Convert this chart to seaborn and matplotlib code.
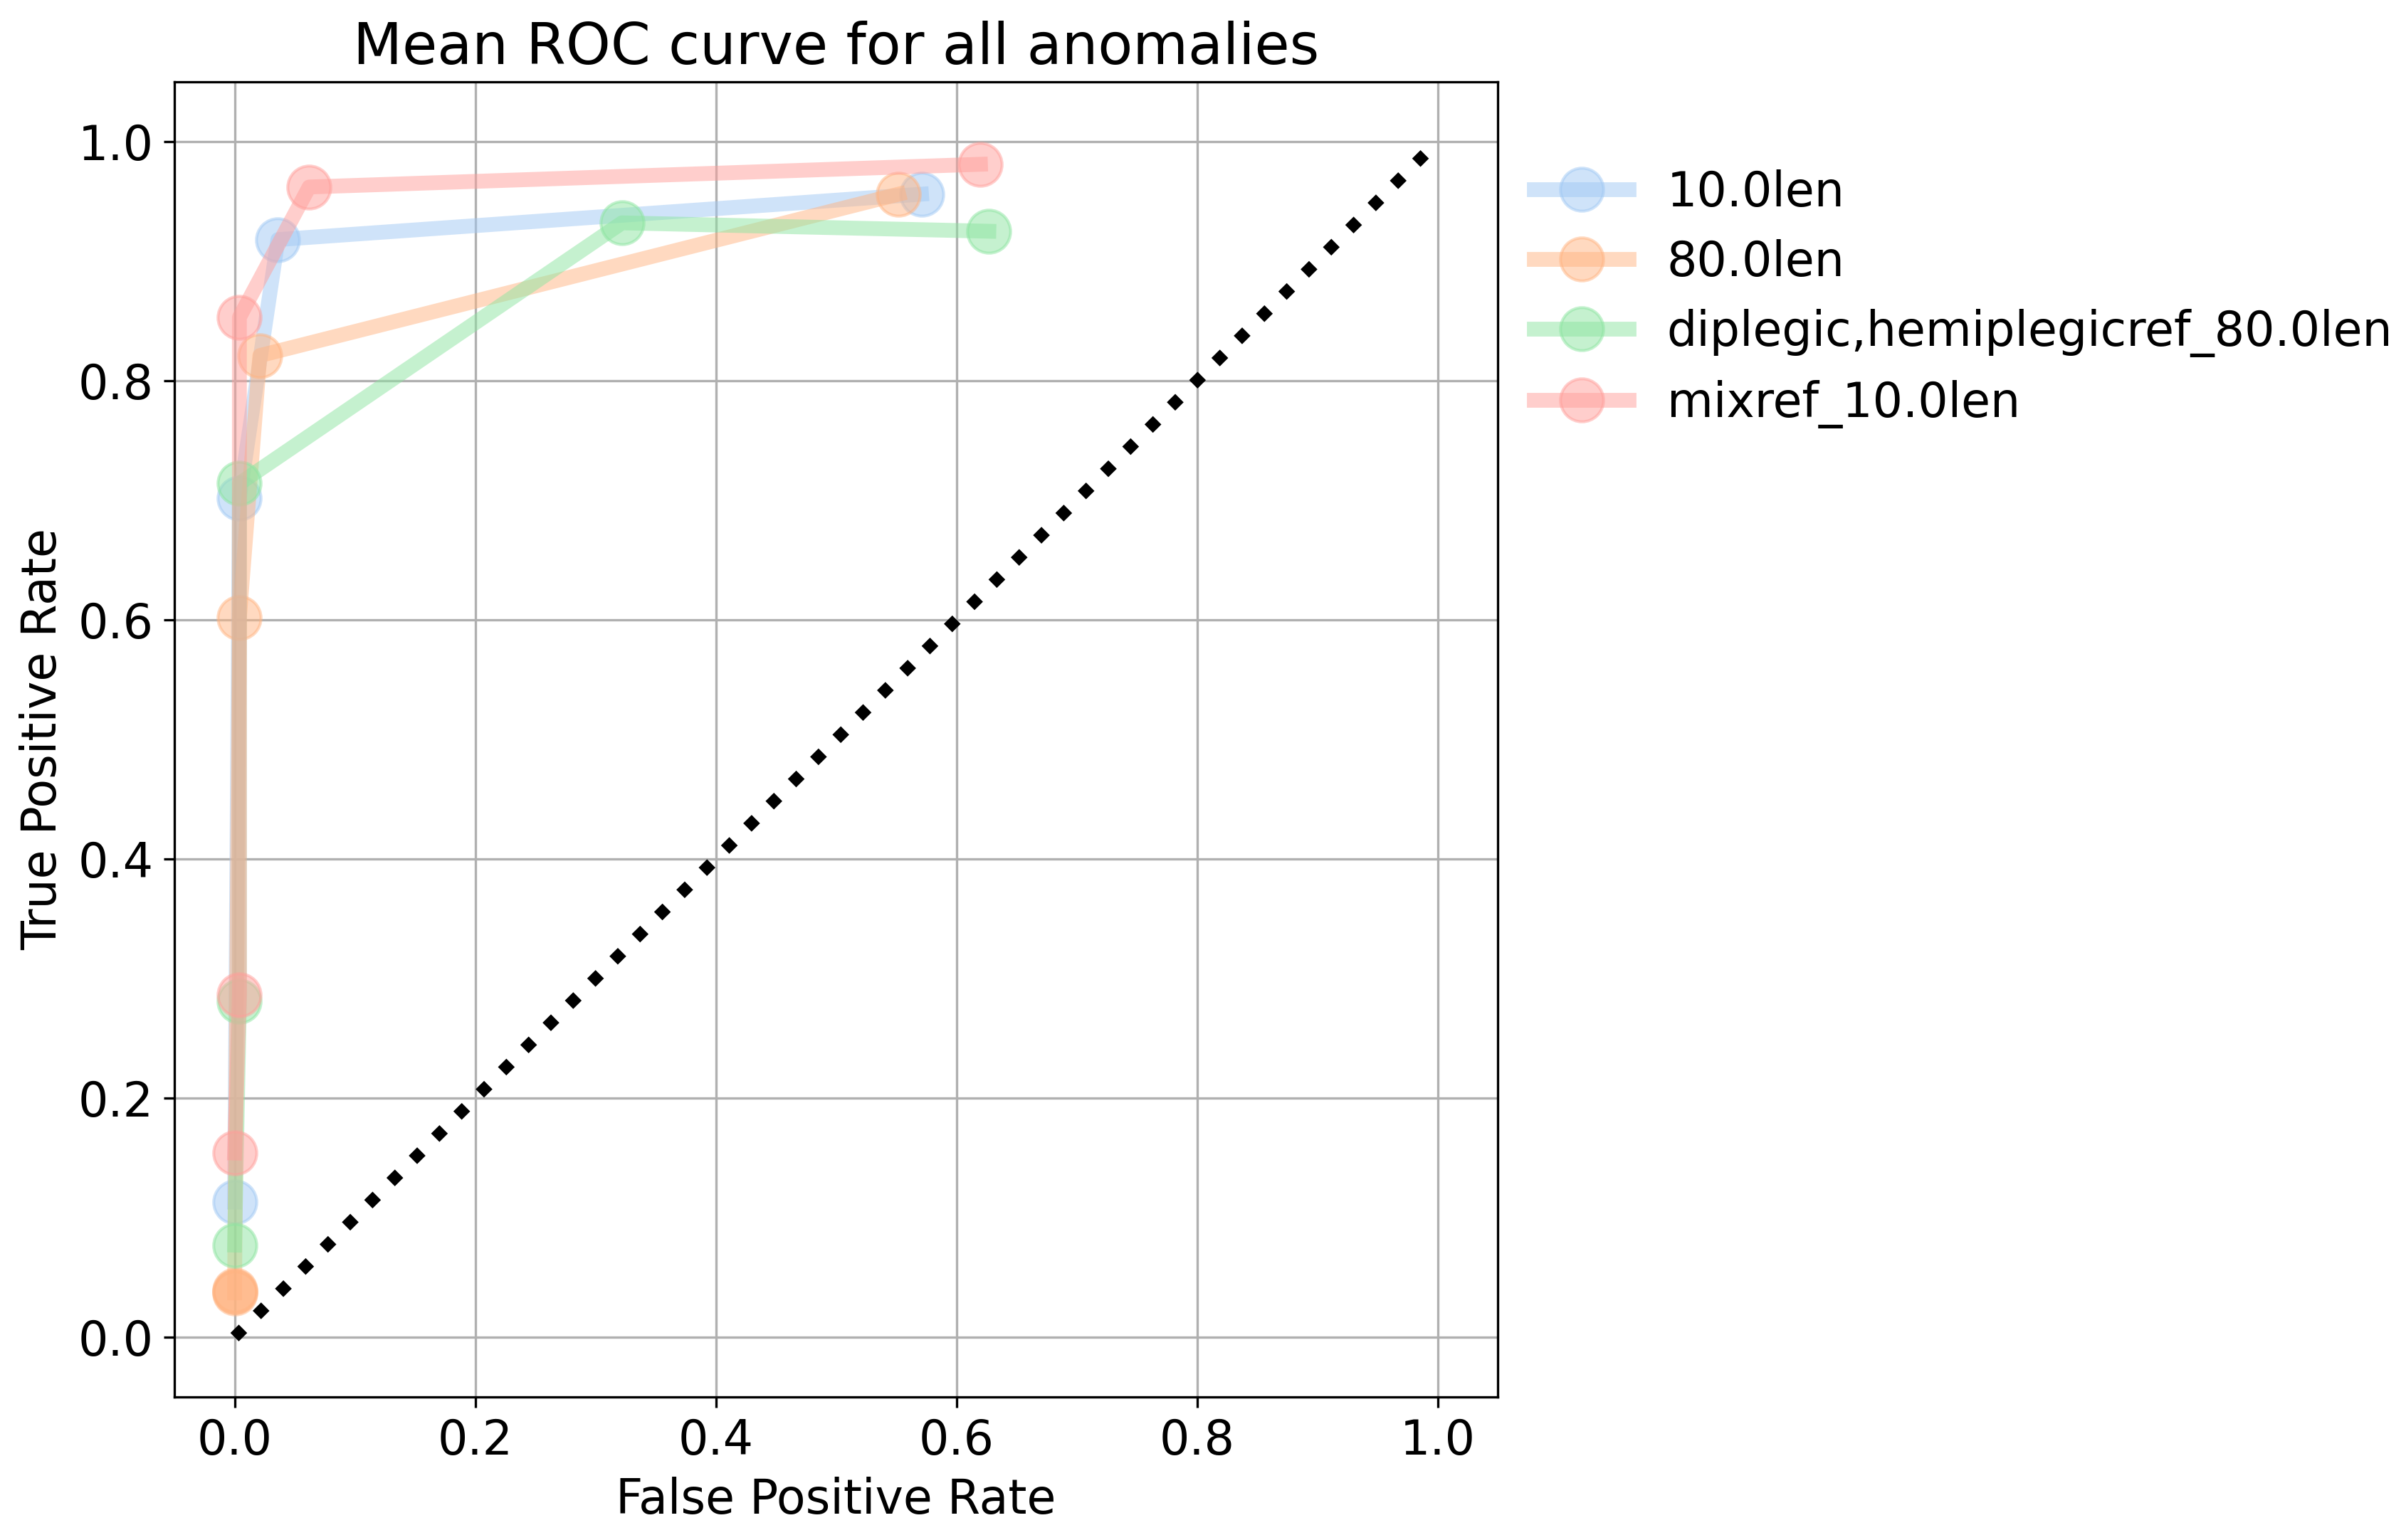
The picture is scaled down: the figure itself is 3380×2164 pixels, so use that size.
import pandas as pd
import numpy as np
import matplotlib
matplotlib.use("Agg")
import matplotlib.pyplot as plt
import seaborn as sns

# ROC points (fpr, tpr) per run
names = ["10.0len", "80.0len", "diplegic,hemiplegicref_80.0len", "mixref_10.0len"]

fpr_10 = [0.0, 0.004, 0.036, 0.571]
tpr_10 = [0.113, 0.702, 0.918, 0.956]

fpr_80 = [0.0, 0.0, 0.0, 0.004, 0.021, 0.552]
tpr_80 = [0.037, 0.038, 0.039, 0.602, 0.821, 0.956]

fpr_dh = [0.0, 0.004, 0.004, 0.322, 0.627]
tpr_dh = [0.077, 0.281, 0.714, 0.932, 0.925]

fpr_mix = [0.0, 0.004, 0.004, 0.062, 0.620]
tpr_mix = [0.154, 0.286, 0.853, 0.962, 0.981]

chance = [0.0, 1.0]

frames = []
for name, fpr, tpr in zip(names, [fpr_10, fpr_80, fpr_dh, fpr_mix],
                          [tpr_10, tpr_80, tpr_dh, tpr_mix]):
    frames.append(pd.DataFrame({"fpr": fpr, "tpr": tpr, "run": name}))
data = pd.concat(frames, ignore_index=True)

plt.rcParams["font.size"] = 16

fig = plt.figure(figsize=(3380 / 300, 2164 / 300), dpi=300)
ax = fig.add_axes([0.0725, 0.0929, 0.55, 0.854])

sns.lineplot(data=data, x="fpr", y="tpr", hue="run", hue_order=names,
             palette="pastel", sort=False, estimator=None, marker="o",
             markersize=14.5, linewidth=5, alpha=0.5,
             solid_capstyle="projecting", legend=False, ax=ax)

for line in ax.lines:
    line.set_markeredgecolor(line.get_color())
    line.set_markeredgewidth(1.0)

handles = list(ax.lines[:4])

ax.plot(chance, chance, "k:", linewidth=4)

ax.grid(True)
ax.set_xlabel("False Positive Rate")
ax.set_ylabel("True Positive Rate")
ax.set_title("Mean ROC curve for all anomalies")

ax.legend(handles, names, loc="upper left", bbox_to_anchor=(1.013, 0.948),
          borderaxespad=0, labelspacing=0.48, frameon=False)

fig.savefig("out.png", dpi=300)
